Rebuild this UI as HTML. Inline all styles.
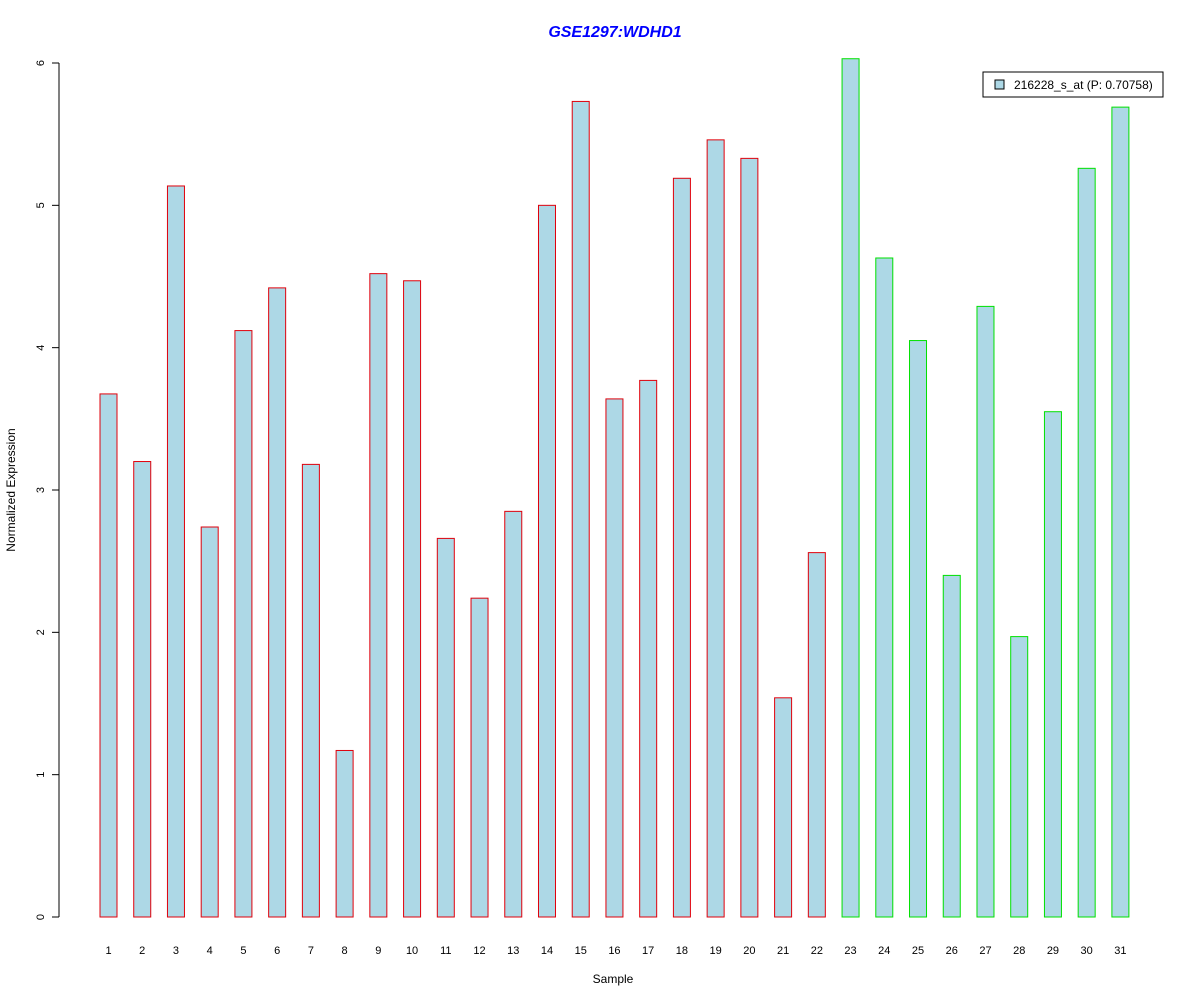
<!DOCTYPE html>
<html><head><meta charset="utf-8"><style>body{margin:0;background:#fff}svg{display:block;font-family:"Liberation Sans",Arial,sans-serif}</style></head>
<body>
<svg id="chart" width="1200" height="1000">
<text x="615" y="37" text-anchor="middle" font-size="16" font-weight="bold" font-style="italic" fill="#0000ff">GSE1297:WDHD1</text>
<text x="613" y="983" text-anchor="middle" font-size="12">Sample</text>
<text transform="translate(15,490) rotate(-90)" text-anchor="middle" font-size="12">Normalized Expression</text>
<g id="yaxis"></g>
<g id="bars"></g>
<g id="xlabels"></g>
<g>
<rect x="983" y="72" width="180" height="25" fill="#fff" stroke="#000"/>
<rect x="995" y="80" width="9" height="9" fill="#add8e6" stroke="#000"/>
<text x="1014" y="89" font-size="12">216228_s_at (P: 0.70758)</text>
</g>
</svg>
<script>
const categories = ["1","2","3","4","5","6","7","8","9","10","11","12","13","14","15","16","17","18","19","20","21","22","23","24","25","26","27","28","29","30","31"];
const values = [3.675,3.20,5.136,2.74,4.12,4.42,3.18,1.17,4.52,4.47,2.66,2.24,2.85,5.0,5.73,3.64,3.77,5.19,5.46,5.33,1.54,2.56,6.03,4.63,4.05,2.40,4.29,1.97,3.55,5.26,5.69];
const groups = ["a","a","a","a","a","a","a","a","a","a","a","a","a","a","a","a","a","a","a","a","a","a","b","b","b","b","b","b","b","b","b"];
const yTicks = [0,1,2,3,4,5,6];
const NS="http://www.w3.org/2000/svg";
const y = v => 917 - v*(917-63)/6;
const x = i => 108.5 + i*33.73;
function mk(tag, attrs, parent){const e=document.createElementNS(NS,tag);for(const k in attrs)e.setAttribute(k,attrs[k]);parent.appendChild(e);return e;}
const ya=document.getElementById('yaxis');
const axl=mk('line',{x1:59,x2:59,y1:y(0),y2:y(6),stroke:'#000'},ya);


yTicks.forEach(t=>{
 const l=mk('line',{x1:52,x2:59,y1:y(t),y2:y(t),stroke:'#000'},ya);
 
 
 const tx=mk('text',{transform:`translate(44,${y(t)}) rotate(-90)`,'text-anchor':'middle','font-size':11},ya);
 
 
 tx.textContent=t;
});
const bg=document.getElementById('bars'), xl=document.getElementById('xlabels');
values.forEach((v,i)=>{
 const r=mk('rect',{x:x(i)-8.5,y:y(v),width:17,height:y(0)-y(v),fill:'#add8e6',stroke:groups[i]==='a'?'#e0000b':'#00e000','stroke-width':1},bg);
 
 
 const t=mk('text',{x:x(i),y:954,'text-anchor':'middle','font-size':11},xl);
 
 
 t.textContent=categories[i];
});
</script>
</body></html>
